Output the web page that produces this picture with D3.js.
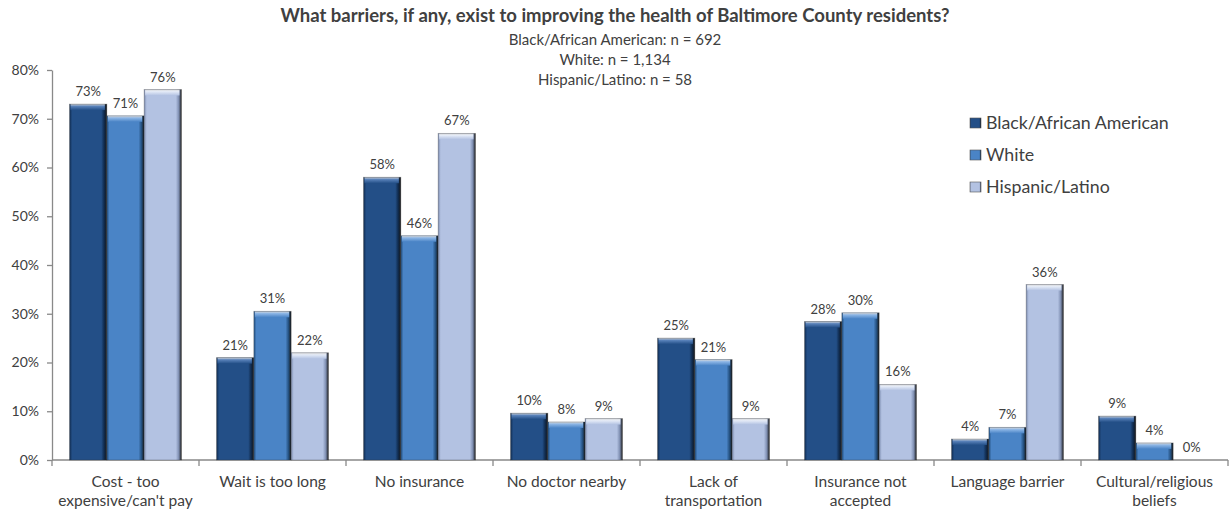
<!DOCTYPE html>
<html><head><meta charset="utf-8">
<script src="https://cdn.jsdelivr.net/npm/d3@7"></script>
<style>
body{margin:0;background:#fff;}
svg{font-family:Lato,"Open Sans",sans-serif;}
</style></head>
<body><svg id="c" width="1230" height="512"></svg>
<script>
const categories = [["Cost - too","expensive/can't pay"],["Wait is too long"],["No insurance"],["No doctor nearby"],["Lack of","transportation"],["Insurance not","accepted"],["Language barrier"],["Cultural/religious","beliefs"]];
const seriesNames = ["Black/African American","White","Hispanic/Latino"];
const black = [0.73,0.21,0.58,0.096,0.25,0.284,0.043,0.09];
const white = [0.706,0.305,0.46,0.078,0.206,0.302,0.067,0.035];
const hispanic = [0.76,0.22,0.67,0.085,0.085,0.155,0.36,0.0];
const yTicks = [0,0.1,0.2,0.3,0.4,0.5,0.6,0.7,0.8];
const title = "What barriers, if any, exist to improving the health of Baltimore County residents?";
const subtitles = ["Black/African American: n = 692","White: n = 1,134","Hispanic/Latino: n = 58"];

const colors = ["#234f87","#4a84c6","#b3c2e2"];
const darks = ["#0f2a4d","#24507f","#7d8db0"];
const lights = ["#5a83bb","#8db6e6","#e3eaf7"];

const svg = d3.select("#c");
const m = {l:52,r:2,t:70,b:52};
const W = 1230, H = 512;
const x0 = d3.scaleBand().domain(d3.range(categories.length)).range([m.l, W-m.r]).paddingInner(0).paddingOuter(0);
const x1 = d3.scaleBand().domain(d3.range(3)).range([0, x0.bandwidth()]).paddingOuter(0.47).paddingInner(0);
const y = d3.scaleLinear().domain([0,0.8]).range([H-m.b, m.t]);

const defs = svg.append("defs");
colors.forEach((c,i)=>{
  const g = defs.append("linearGradient").attr("id","gh"+i).attr("x1","0").attr("x2","1").attr("y1","0").attr("y2","0");
  g.append("stop").attr("offset","0").attr("stop-color",darks[i]);
  g.append("stop").attr("offset","0.07").attr("stop-color",c);
  g.append("stop").attr("offset","0.85").attr("stop-color",c);
  g.append("stop").attr("offset","0.93").attr("stop-color",darks[i]);
  g.append("stop").attr("offset","1").attr("stop-color","#1a1a1a");
  const t = defs.append("linearGradient").attr("id","gt"+i).attr("x1","0").attr("x2","0").attr("y1","0").attr("y2","1");
  t.append("stop").attr("offset","0").attr("stop-color","#d9d9d9");
  t.append("stop").attr("offset","0.35").attr("stop-color",lights[i]);
  t.append("stop").attr("offset","1").attr("stop-color",c);
});

// Title
svg.append("text").attr("x",615).attr("y",22).attr("text-anchor","middle").attr("font-weight","bold").attr("font-size","18.5px").attr("fill","#404040").text(title);
subtitles.forEach((s,i)=>svg.append("text").attr("x",615).attr("y",45+i*20).attr("text-anchor","middle").attr("font-size","15px").attr("fill","#404040").text(s));

// Y axis
const yAxis = d3.axisLeft(y).tickValues(yTicks).tickFormat(d3.format(".0%")).tickSize(5).tickSizeOuter(0);
const ya = svg.append("g").attr("transform",`translate(${m.l},0)`).call(yAxis);
ya.select(".domain").attr("stroke","#898989").attr("stroke-width",1.3);
ya.selectAll(".tick line").attr("stroke","#898989").attr("stroke-width",1.3);
ya.selectAll(".tick text").attr("font-size","14px").attr("fill","#404040").attr("font-family","Lato").attr("x",-13);

// X axis
const xa = svg.append("g").attr("transform",`translate(0,${H-m.b})`);
xa.append("line").attr("x1",m.l).attr("x2",W-m.r).attr("stroke","#898989").attr("stroke-width",1.3);
d3.range(categories.length+1).forEach(i=>{
  const xx = i<categories.length ? x0(i) : W-m.r;
  xa.append("line").attr("x1",xx).attr("x2",xx).attr("y1",0).attr("y2",6).attr("stroke","#898989").attr("stroke-width",1.3);
});
categories.forEach((lines,i)=>{
  const t = xa.append("text").attr("text-anchor","middle").attr("font-size","15.5px").attr("fill","#404040");
  lines.forEach((ln,j)=>t.append("tspan").attr("x",x0(i)+x0.bandwidth()/2).attr("y",27+j*19).text(ln));
});

// Bars
const series = [black,white,hispanic];
const fmt = d3.format(".0%");
series.forEach((vals,s)=>{
  const g = svg.append("g");
  vals.forEach((v,i)=>{
    const bx = x0(i)+x1(s), bw = x1.bandwidth();
    const top = y(v), h = y(0)-y(v);
    if(h>0){
      g.append("rect").attr("x",bx).attr("y",top).attr("width",bw).attr("height",h).attr("fill",`url(#gh${s})`);
      const capH = Math.min(6,h);
      g.append("rect").attr("x",bx+1).attr("y",top).attr("width",bw-3).attr("height",capH).attr("fill",`url(#gt${s})`);
      g.append("rect").attr("x",bx).attr("y",top).attr("width",bw).attr("height",h).attr("fill","none").attr("stroke","#2a2a2a").attr("stroke-opacity",0.35).attr("stroke-width",0.8);
    }
    g.append("text").attr("x",bx+bw/2).attr("y",top-8).attr("text-anchor","middle").attr("font-size","13px").attr("fill","#404040").text(fmt(v));
  });
});

// Legend
const lg = svg.append("g").attr("transform","translate(970,123)");
seriesNames.forEach((n,i)=>{
  const r = lg.append("g").attr("transform",`translate(0,${i*32})`);
  r.append("rect").attr("x",0).attr("y",-5).attr("width",11).attr("height",10).attr("fill",`url(#gh${i})`).attr("stroke","#555").attr("stroke-width",0.6);
  r.append("text").attr("x",16).attr("y",6).attr("font-size","17.8px").attr("fill","#404040").text(n);
});
</script></body></html>
